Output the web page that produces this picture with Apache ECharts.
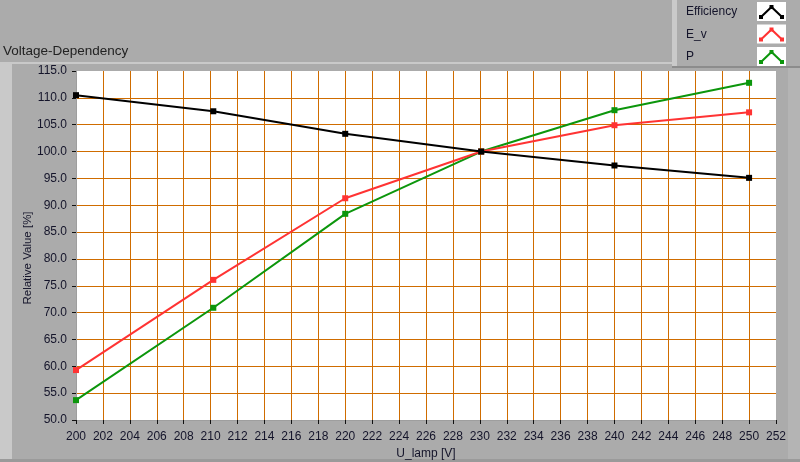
<!DOCTYPE html>
<html>
<head>
<meta charset="utf-8">
<script src="https://cdn.jsdelivr.net/npm/echarts@6/dist/echarts.min.js"></script>
<style>
html,body{margin:0;padding:0;background:#ababab;}
#c{width:800px;height:462px;}
</style>
</head>
<body>
<div id="c"></div>
<script>
var voltages = [200, 210.2, 220, 230.1, 240, 250];
var efficiency = [110.5, 107.5, 103.3, 100.0, 97.4, 95.1];
var eV = [59.3, 76.1, 91.3, 100.0, 104.9, 107.3];
var power = [53.7, 70.9, 88.4, 100.0, 107.7, 112.8];
var seriesNames = ['Efficiency', 'E_v', 'P'];
var seriesColors = ['#000000', '#ff3333', '#0c960c'];
var seriesValues = [efficiency, eV, power];
var title = 'Voltage-Dependency';
var xName = 'U_lamp [V]';
var yName = 'Relative Value [%]';

var FONT = 'Liberation Sans';
var TXT = '#14142a';

function pairs(xs, ys) { return xs.map(function (x, i) { return [x, ys[i]]; }); }

var series = seriesNames.map(function (n, i) {
  return {
    name: n, type: 'line', data: pairs(voltages, seriesValues[i]),
    symbol: 'rect', symbolSize: 6, showSymbol: true,
    lineStyle: { color: seriesColors[i], width: 2 },
    itemStyle: { color: seriesColors[i] },
    z: 10 - i, animation: false
  };
});

var graphics = [
  { type: 'rect', shape: { x: 0, y: 62, width: 672, height: 2 }, style: { fill: '#c9c9c9' }, silent: true, z: -10 },
  { type: 'rect', shape: { x: 0, y: 63, width: 12, height: 397 }, style: { fill: '#c9c9c9' }, silent: true, z: -10 },
  { type: 'rect', shape: { x: 0, y: 459, width: 800, height: 3 }, style: { fill: '#9a9a9a' }, silent: true, z: -10 },
  { type: 'rect', shape: { x: 788, y: 67, width: 12, height: 392 }, style: { fill: '#b4b4b4' }, silent: true, z: -10 },
  { type: 'rect', shape: { x: 672, y: 0, width: 128, height: 67 }, style: { fill: '#acacac' }, silent: true, z: -5 },
  { type: 'rect', shape: { x: 672, y: 0, width: 5, height: 67 }, style: { fill: '#cacaca' }, silent: true, z: -4 },
  { type: 'rect', shape: { x: 672, y: 66, width: 128, height: 2 }, style: { fill: '#8c8c8c' }, silent: true, z: -4 },
  { type: 'text', left: 3, top: 44, style: { text: title, fill: '#222222', font: '13.5px "' + FONT + '"' }, silent: true },
  { type: 'text', x: 28, y: 258, rotation: Math.PI / 2, style: { text: yName, fill: TXT, font: '11.5px "' + FONT + '"', align: 'center', verticalAlign: 'middle' }, silent: true }
];

seriesNames.forEach(function (n, i) {
  var y0 = 2 + i * 22.5;
  graphics.push({ type: 'text', x: 686, y: y0 + 10, style: { text: n, fill: TXT, font: '12px "' + FONT + '"', verticalAlign: 'middle' }, silent: true });
  graphics.push({ type: 'rect', shape: { x: 757, y: y0, width: 29, height: 19 }, style: { fill: '#ffffff' }, silent: true });
  graphics.push({ type: 'polyline', shape: { points: [[761, y0 + 15], [771.5, y0 + 5], [782, y0 + 15]] }, style: { stroke: seriesColors[i], lineWidth: 2, fill: null }, silent: true });
  [[761, y0 + 15], [771.5, y0 + 5], [782, y0 + 15]].forEach(function (p) {
    graphics.push({ type: 'rect', shape: { x: p[0] - 2, y: p[1] - 2, width: 4, height: 4 }, style: { fill: seriesColors[i] }, silent: true });
  });
});

var chart = echarts.init(document.getElementById('c'), null, { renderer: 'canvas' });
chart.setOption({
  backgroundColor: '#ababab',
  animation: false,
  grid: { left: 76, right: 24, top: 71, bottom: 42, show: true, backgroundColor: '#ffffff', borderWidth: 0, containLabel: false, outerBoundsMode: 'none' },
  xAxis: {
    type: 'value', min: 200, max: 252, interval: 2,
    name: xName, nameLocation: 'middle', nameGap: 26,
    nameTextStyle: { color: TXT, fontFamily: FONT, fontSize: 12 },
    axisLine: { show: true, lineStyle: { color: '#9e9e9e', width: 1 } },
    axisTick: { show: true, length: 4, lineStyle: { color: '#111' } },
    axisLabel: { color: TXT, fontFamily: FONT, fontSize: 12, margin: 11, showMinLabel: true, showMaxLabel: true },
    splitLine: { show: true, showMinLine: false, showMaxLine: false, lineStyle: { color: '#cf6c00', width: 1 } }
  },
  yAxis: {
    type: 'value', min: 50, max: 115, interval: 5,
    axisLine: { show: true, lineStyle: { color: '#9e9e9e', width: 1 } },
    axisTick: { show: true, length: 4, lineStyle: { color: '#111' } },
    axisLabel: { color: TXT, fontFamily: FONT, fontSize: 12, margin: 9, formatter: function (v) { return v.toFixed(1); } },
    splitLine: { show: true, showMinLine: false, showMaxLine: false, lineStyle: { color: '#cf6c00', width: 1 } }
  },
  series: series,
  graphic: graphics
});
</script>
</body>
</html>
